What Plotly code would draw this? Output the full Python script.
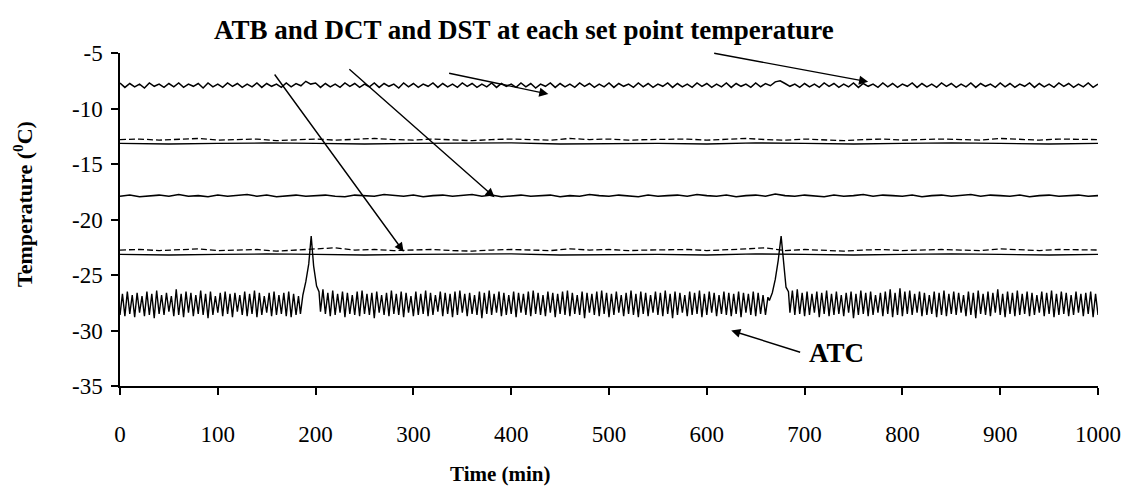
import numpy as np
import plotly.graph_objects as go

# ---------------- data ----------------
# ATC: cabinet air temperature, oscillating, two defrost spikes
atc_a_start, atc_a_step = 0.0, 2.5
atc_a = [-28.6,-26.7,-28.7,-26.5,-28.5,-26.8,-28.8,-26.6,-28.4,-26.9,
         -28.7,-26.5,-28.6,-26.7,-28.9,-26.4,-28.5,-26.8,-28.6,-26.6,
         -28.3,-26.9,-28.7,-26.3,-28.6,-26.7,-28.8,-26.5,-28.4,-26.6,
         -28.7,-26.8,-28.5,-26.4,-28.6,-26.7,-28.9,-26.5,-28.6,-26.9,
         -28.4,-26.6,-28.7,-26.5,-28.5,-26.7,-28.8,-26.6,-28.3,-26.8,
         -28.6,-26.5,-28.7,-26.7,-28.5,-26.4,-28.8,-26.6,-28.6,-26.9,
         -28.4,-26.6,-28.7,-26.5,-28.6,-26.8,-28.5,-26.6,-28.7,-26.5,
         -28.8,-26.7,-28.6,-26.9]
defrost1_t = [184.5, 187, 190, 193, 195.5, 198, 201, 203.5]
defrost1_v = [-28.5, -26.8, -25.6, -24.0, -21.5, -24.2, -26.0, -26.5]
atc_b_start, atc_b_step = 205.0, 2.5
atc_b = [-28.3,-26.3,-28.5,-26.6,-28.7,-26.4,-28.6,-26.7,-28.4,-26.5,
         -28.8,-26.6,-28.5,-26.8,-28.6,-26.5,-28.7,-26.4,-28.5,-26.7,
         -28.6,-26.6,-28.9,-26.5,-28.4,-26.8,-28.6,-26.6,-28.7,-26.4,
         -28.5,-26.7,-28.6,-26.5,-28.8,-26.6,-28.4,-26.9,-28.7,-26.5,
         -28.6,-26.7,-28.5,-26.4,-28.7,-26.6,-28.6,-26.8,-28.3,-26.5,
         -28.7,-26.6,-28.5,-26.7,-28.8,-26.5,-28.6,-26.4,-28.4,-26.7,
         -28.7,-26.6,-28.5,-26.8,-28.6,-26.5,-28.9,-26.6,-28.5,-26.4,
         -28.6,-26.7,-28.4,-26.5,-28.7,-26.6,-28.6,-26.8,-28.5,-26.5,
         -28.8,-26.6,-28.4,-26.7,-28.6,-26.5,-28.7,-26.4,-28.5,-26.6,
         -28.6,-26.8,-28.7,-26.5,-28.4,-26.6,-28.8,-26.7,-28.5,-26.5,
         -28.6,-26.4,-28.7,-26.6,-28.5,-26.8,-28.6,-26.5,-28.9,-26.6,
         -28.4,-26.7,-28.6,-26.5,-28.7,-26.4,-28.5,-26.6,-28.8,-26.7,
         -28.6,-26.5,-28.4,-26.8,-28.7,-26.6,-28.5,-26.4,-28.6,-26.7,
         -28.8,-26.5,-28.5,-26.6,-28.7,-26.8,-28.4,-26.5,-28.6,-26.6,
         -28.7,-26.4,-28.5,-26.7,-28.9,-26.5,-28.6,-26.6,-28.4,-26.8,
         -28.7,-26.5,-28.6,-26.6,-28.5,-26.4,-28.8,-26.7,-28.6,-26.5,
         -28.4,-26.6,-28.7,-26.8,-28.5,-26.5,-28.6,-26.6,-28.7,-26.7,
         -28.5,-26.5,-28.8,-26.6,-28.4,-26.7,-28.6,-26.5,-28.7,-26.6,
         -28.5,-26.8,-28.6,-27.0]
defrost2_t = [664, 667, 670, 673, 676, 678.5, 681, 683.5]
defrost2_v = [-27.3, -26.6, -25.4, -23.7, -21.5, -24.0, -26.1, -26.5]
atc_c_start, atc_c_step = 685.0, 2.5
atc_c = [-28.4,-26.4,-28.6,-26.3,-28.5,-26.6,-28.7,-26.5,-28.6,-26.7,
         -28.4,-26.5,-28.8,-26.6,-28.5,-26.4,-28.7,-26.7,-28.6,-26.5,
         -28.5,-26.8,-28.7,-26.6,-28.4,-26.5,-28.9,-26.7,-28.6,-26.4,
         -28.5,-26.6,-28.7,-26.5,-28.6,-26.8,-28.4,-26.6,-28.7,-26.5,
         -28.5,-26.3,-28.8,-26.6,-28.6,-26.2,-28.7,-26.5,-28.5,-26.4,
         -28.6,-26.7,-28.4,-26.5,-28.7,-26.6,-28.6,-26.8,-28.5,-26.5,
         -28.8,-26.6,-28.6,-26.4,-28.7,-26.7,-28.5,-26.5,-28.6,-26.6,
         -28.4,-26.8,-28.7,-26.5,-28.6,-26.6,-28.9,-26.4,-28.5,-26.7,
         -28.6,-26.5,-28.7,-26.6,-28.4,-26.3,-28.6,-26.7,-28.8,-26.5,
         -28.5,-26.6,-28.7,-26.4,-28.6,-26.7,-28.5,-26.5,-28.7,-26.6,
         -28.6,-26.8,-28.4,-26.5,-28.7,-26.6,-28.5,-26.4,-28.8,-26.7,
         -28.6,-26.5,-28.5,-26.6,-28.7,-26.8,-28.6,-26.5,-28.4,-26.7,
         -28.7,-26.6,-28.5,-26.5,-28.8,-26.7,-28.6]

# set point -8 (noisy line), every 5 min
sp8_step = 5.0
sp8 = [-7.7,-8.1,-7.75,-8.05,-7.8,-8.15,-7.7,-8.0,-7.8,-8.1,
       -7.75,-8.05,-7.7,-8.1,-7.8,-8.0,-7.75,-8.15,-7.7,-8.05,
       -7.8,-8.1,-7.7,-8.0,-7.75,-8.1,-7.8,-8.05,-7.7,-8.1,
       -7.75,-8.0,-7.8,-8.1,-7.7,-8.05,-7.75,-7.95,-7.55,-7.8,
       -7.7,-8.1,-7.75,-8.05,-7.8,-8.1,-7.7,-8.0,-7.75,-8.1,
       -7.8,-8.05,-7.7,-8.1,-7.75,-8.0,-7.8,-8.15,-7.7,-8.05,
       -7.75,-8.1,-7.8,-8.0,-7.7,-8.1,-7.75,-8.05,-7.8,-8.1,
       -7.7,-8.0,-7.75,-8.1,-7.8,-8.05,-7.7,-8.1,-7.75,-8.0,
       -7.8,-8.1,-7.7,-8.05,-7.75,-8.15,-7.8,-8.0,-7.7,-8.1,
       -7.75,-8.05,-7.8,-8.1,-7.7,-8.0,-7.75,-8.1,-7.8,-8.05,
       -7.7,-8.1,-7.75,-8.0,-7.8,-8.1,-7.7,-8.05,-7.75,-8.1,
       -7.8,-8.0,-7.7,-8.1,-7.75,-8.05,-7.8,-8.1,-7.7,-8.0,
       -7.75,-8.1,-7.8,-8.05,-7.7,-8.1,-7.75,-8.0,-7.8,-8.1,
       -7.7,-8.05,-7.75,-7.95,-7.6,-7.5,-7.75,-8.0,-7.8,-8.1,
       -7.75,-8.05,-7.8,-8.1,-7.7,-8.0,-7.75,-8.1,-7.8,-8.05,
       -7.7,-8.1,-7.75,-8.0,-7.8,-8.1,-7.7,-8.05,-7.75,-8.1,
       -7.8,-8.0,-7.7,-8.1,-7.75,-8.05,-7.8,-8.1,-7.7,-8.0,
       -7.75,-8.1,-7.8,-8.05,-7.7,-8.1,-7.75,-8.0,-7.8,-8.1,
       -7.7,-8.05,-7.75,-8.1,-7.8,-8.0,-7.7,-8.1,-7.75,-8.05,
       -7.8,-8.1,-7.7,-8.0,-7.75,-8.1,-7.8,-8.05,-7.7,-8.1,
       -7.8]

# set point -13 : dashed (every 20 min) and solid (every 50 min)
sp13_dash_step = 20.0
sp13_dash = [-12.8,-12.75,-12.85,-12.8,-12.7,-12.85,-12.8,-12.75,-12.9,-12.8,
             -12.75,-12.85,-12.8,-12.7,-12.8,-12.85,-12.75,-12.8,-12.9,-12.8,
             -12.75,-12.8,-12.85,-12.7,-12.8,-12.75,-12.85,-12.8,-12.8,-12.75,
             -12.85,-12.8,-12.7,-12.8,-12.85,-12.75,-12.8,-12.9,-12.8,-12.75,
             -12.85,-12.8,-12.75,-12.8,-12.85,-12.7,-12.8,-12.85,-12.75,-12.8,
             -12.8]
sp13_solid_step = 50.0
sp13_solid = [-13.15,-13.2,-13.15,-13.1,-13.15,-13.2,-13.15,-13.15,-13.1,-13.2,
              -13.15,-13.15,-13.2,-13.1,-13.15,-13.2,-13.15,-13.1,-13.15,-13.2,
              -13.15]

# set point -18 : noisy line every 10 min
sp18_step = 10.0
sp18 = [-17.9,-17.8,-17.95,-17.85,-17.8,-17.9,-17.75,-17.9,-17.85,-17.95,
        -17.8,-17.9,-17.85,-17.75,-17.9,-17.8,-17.95,-17.85,-17.8,-17.9,
        -17.85,-17.8,-17.9,-17.95,-17.8,-17.85,-17.9,-17.75,-17.85,-17.9,
        -17.8,-17.95,-17.85,-17.8,-17.9,-17.85,-17.75,-17.9,-17.8,-17.95,
        -17.85,-17.8,-17.9,-17.85,-17.8,-17.95,-17.85,-17.9,-17.75,-17.85,
        -17.9,-17.8,-17.85,-17.95,-17.8,-17.9,-17.85,-17.8,-17.9,-17.75,
        -17.85,-17.9,-17.8,-17.95,-17.85,-17.8,-17.9,-17.7,-17.85,-17.9,
        -17.8,-17.85,-17.95,-17.8,-17.9,-17.85,-17.75,-17.9,-17.8,-17.85,
        -17.9,-17.8,-17.95,-17.85,-17.8,-17.9,-17.85,-17.75,-17.9,-17.8,
        -17.85,-17.9,-17.8,-17.95,-17.85,-17.8,-17.9,-17.85,-17.8,-17.9,
        -17.85]

# set point -23 : dashed (every 20 min) and solid (every 50 min)
sp23_dash_step = 20.0
sp23_dash = [-22.75,-22.7,-22.8,-22.75,-22.65,-22.8,-22.75,-22.7,-22.85,-22.75,
             -22.7,-22.55,-22.75,-22.7,-22.8,-22.75,-22.7,-22.8,-22.85,-22.75,
             -22.7,-22.75,-22.8,-22.65,-22.75,-22.7,-22.8,-22.75,-22.75,-22.7,
             -22.8,-22.75,-22.65,-22.55,-22.8,-22.7,-22.75,-22.85,-22.75,-22.7,
             -22.8,-22.75,-22.7,-22.75,-22.8,-22.65,-22.75,-22.8,-22.7,-22.75,
             -22.75]
sp23_solid_step = 50.0
sp23_solid = [-23.15,-23.2,-23.15,-23.1,-23.15,-23.2,-23.15,-23.15,-23.1,-23.2,
              -23.15,-23.15,-23.2,-23.1,-23.15,-23.2,-23.15,-23.1,-23.15,-23.2,
              -23.15]

x_ticks = [0, 100, 200, 300, 400, 500, 600, 700, 800, 900, 1000]
y_ticks = [-35, -30, -25, -20, -15, -10, -5]
y_ticktext = ["-35", "-30", "-25", "-20", "-15", "-10", "-5"]


def times(start, step, vals):
    return start + step * np.arange(len(vals))


FONT = "Liberation Serif, Times New Roman, serif"
L, R, T, B = 112, 42, 45, 108
W, H = 1132, 486
pw, ph = W - L - R, H - T - B


def px_to_paper(px, py):
    return (px - L) / pw, (H - B - py) / ph


fig = go.Figure()


def add(x, y, dash=None, width=1.3):
    fig.add_trace(go.Scatter(x=x, y=y, mode="lines", showlegend=False,
                             hoverinfo="skip",
                             line=dict(color="black", width=width,
                                       dash=dash if dash else "solid")))

# ATC
atc_x = np.concatenate([times(atc_a_start, atc_a_step, atc_a), defrost1_t,
                        times(atc_b_start, atc_b_step, atc_b), defrost2_t,
                        times(atc_c_start, atc_c_step, atc_c)])
atc_y = np.concatenate([atc_a, defrost1_v, atc_b, defrost2_v, atc_c])
add(atc_x, atc_y, width=1.4)

add(times(0, sp8_step, sp8), sp8, width=1.5)
add(times(0, sp13_dash_step, sp13_dash), sp13_dash, dash="6px,3px", width=1.3)
add(times(0, sp13_solid_step, sp13_solid), sp13_solid, width=1.3)
add(times(0, sp18_step, sp18), sp18, width=1.6)
add(times(0, sp23_dash_step, sp23_dash), sp23_dash, dash="6px,3px", width=1.3)
add(times(0, sp23_solid_step, sp23_solid), sp23_solid, width=1.3)

annotations = []
# arrows from the heading to each set point group
arrows = [((157, -6.8), (290, -22.9)),
          ((233, -6.35), (383, -18.0)),
          ((335, -6.8), (438, -8.7)),
          ((606, -5.0), (765, -7.6))]
for (tx, ty), (hx, hy) in arrows:
    annotations.append(dict(x=hx, y=hy, ax=tx, ay=ty, xref="x", yref="y",
                            axref="x", ayref="y", text="", showarrow=True,
                            arrowhead=2, arrowsize=1.3, arrowwidth=1.4,
                            arrowcolor="black"))
# ATC arrow and label
annotations.append(dict(x=625, y=-30.0, ax=697, ay=-32.0, xref="x", yref="y",
                        axref="x", ayref="y", text="", showarrow=True,
                        arrowhead=2, arrowsize=1.3, arrowwidth=1.4,
                        arrowcolor="black"))
annotations.append(dict(x=733, y=-32.0, xref="x", yref="y", text="<b>ATC</b>",
                        xanchor="center", yanchor="middle",
                        showarrow=False, font=dict(family=FONT, size=27, color="black")))
# heading
hx_, hy_ = px_to_paper(516, 22)
annotations.append(dict(x=hx_, y=hy_, xref="paper", yref="paper",
                        text="<b>ATB and DCT and DST at each set point temperature</b>",
                        showarrow=False, xanchor="center", yanchor="middle",
                        font=dict(family=FONT, size=27, color="black")))
# axis titles
tx_, ty_ = px_to_paper(492, 466)
annotations.append(dict(x=tx_, y=ty_, xref="paper", yref="paper",
                        text="<b>Time (min)</b>", showarrow=False,
                        xanchor="center", yanchor="middle",
                        font=dict(family=FONT, size=21, color="black")))
yx_, yy_ = px_to_paper(15, 196)
annotations.append(dict(x=yx_, y=yy_, xref="paper", yref="paper",
                        text="<b>Temperature (<sup>0</sup>C)</b>", textangle=-90,
                        xanchor="center", yanchor="middle",
                        showarrow=False, font=dict(family=FONT, size=22, color="black")))

fig.update_layout(
    width=W, height=H,
    margin=dict(l=L, r=R, t=T, b=B),
    paper_bgcolor="white", plot_bgcolor="white",
    annotations=annotations,
    font=dict(family=FONT, size=23, color="black"),
)
fig.update_xaxes(range=[0, 1000], tickvals=x_ticks, showgrid=False, zeroline=False,
                 showline=True, linecolor="black", linewidth=1.5,
                 ticks="outside", ticklen=7, tickwidth=1.5, tickcolor="black",
                 ticklabelstandoff=20,
                 tickfont=dict(family=FONT, size=23, color="black"))
fig.update_yaxes(range=[-35, -5], tickvals=y_ticks, ticktext=y_ticktext,
                 showgrid=False, zeroline=False,
                 showline=True, linecolor="black", linewidth=1.5,
                 ticks="outside", ticklen=7, tickwidth=1.5, tickcolor="black",
                 ticklabelstandoff=4,
                 tickfont=dict(family=FONT, size=23, color="black"))

fig.write_html("out.html")
